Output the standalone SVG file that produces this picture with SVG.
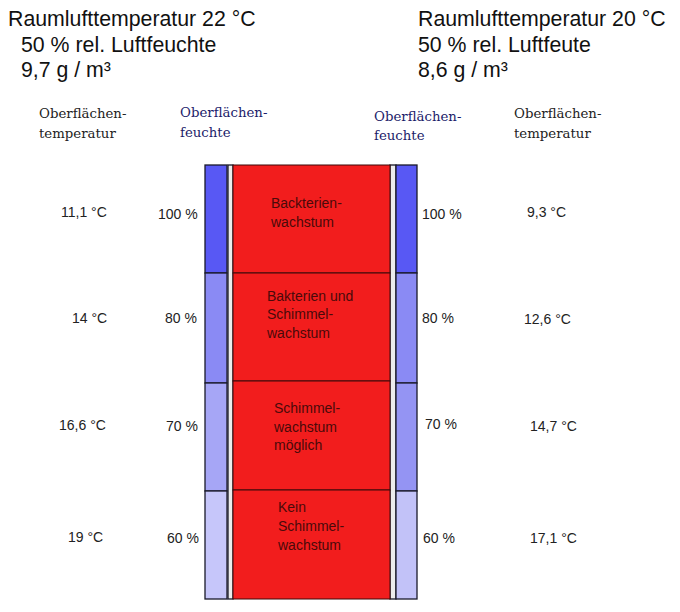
<svg xmlns="http://www.w3.org/2000/svg" width="680" height="612" viewBox="0 0 680 612">
<style>
.h{font-family:"Liberation Sans",Arial,sans-serif;font-size:21.3px;fill:#111}
.s{font-family:"DejaVu Serif","Liberation Serif",serif;font-size:13.3px;fill:#222}
.sb{font-family:"DejaVu Serif","Liberation Serif",serif;font-size:13.3px;fill:#1c1c6a}
.n{font-family:"Liberation Sans",Arial,sans-serif;font-size:14px;fill:#222}
.r{font-family:"Liberation Sans",Arial,sans-serif;font-size:14px;fill:#4a0a0a}
.c{stroke:#1a1a2a;stroke-width:1.3}
.strip{fill:#ececec;stroke:#1a1a2a;stroke-width:1.3}
.red{fill:#f21d1d;stroke:#3a0a0a;stroke-width:1}
</style>
<rect width="680" height="612" fill="#fff"/>
<g id="header-left">
<text class="h" x="8" y="26">Raumlufttemperatur 22 °C</text>
<text class="h" x="21" y="52">50 % rel. Luftfeuchte</text>
<text class="h" x="21" y="77">9,7 g / m³</text>
</g>
<g id="header-right">
<text class="h" x="418" y="26">Raumlufttemperatur 20 °C</text>
<text class="h" x="418" y="52">50 % rel. Luftfeute</text>
<text class="h" x="418" y="77">8,6 g / m³</text>
</g>
<g id="labels">
<text class="s" x="39" y="118">Oberflächen-</text>
<text class="s" x="39" y="138">temperatur</text>
<text class="sb" x="180" y="117">Oberflächen-</text>
<text class="sb" x="180" y="137">feuchte</text>
<text class="sb" x="374" y="121">Oberflächen-</text>
<text class="sb" x="374" y="140">feuchte</text>
<text class="s" x="514" y="118">Oberflächen-</text>
<text class="s" x="514" y="138">temperatur</text>
</g>
<g id="left-humidity">
<rect class="c" x="205" y="165" width="22" height="108" fill="#5858f4"/>
<rect class="c" x="205" y="273" width="22" height="110" fill="#8a8af4"/>
<rect class="c" x="205" y="383" width="22" height="108" fill="#a6a6f6"/>
<rect class="c" x="205" y="491" width="22" height="108" fill="#c6c6fa"/>
</g>
<g id="strips">
<rect class="strip" x="228" y="165" width="5" height="434"/>
<rect class="strip" x="390" y="165" width="6" height="434"/>
</g>
<g id="wall">
<rect class="red" x="233" y="165" width="157" height="108"/>
<rect class="red" x="233" y="273" width="157" height="108"/>
<rect class="red" x="233" y="381" width="157" height="109"/>
<rect class="red" x="233" y="490" width="157" height="109"/>
<text class="r" x="271" y="208">Backterien-</text>
<text class="r" x="271" y="227">wachstum</text>
<text class="r" x="267" y="301">Bakterien und</text>
<text class="r" x="267" y="319">Schimmel-</text>
<text class="r" x="267" y="338">wachstum</text>
<text class="r" x="274" y="413">Schimmel-</text>
<text class="r" x="274" y="432">wachstum</text>
<text class="r" x="274" y="450">möglich</text>
<text class="r" x="278" y="512">Kein</text>
<text class="r" x="278" y="531">Schimmel-</text>
<text class="r" x="278" y="550">wachstum</text>
</g>
<g id="right-humidity">
<rect class="c" x="396" y="165" width="21" height="108" fill="#5858f4"/>
<rect class="c" x="396" y="273" width="21" height="110" fill="#8a8af4"/>
<rect class="c" x="396" y="383" width="21" height="108" fill="#9494f3"/>
<rect class="c" x="396" y="491" width="21" height="108" fill="#c2c2f8"/>
</g>
<g id="left-values">
<text class="n" x="61" y="217">11,1 °C</text>
<text class="n" x="158" y="219">100 %</text>
<text class="n" x="72" y="323">14 °C</text>
<text class="n" x="165" y="323">80 %</text>
<text class="n" x="59" y="430">16,6 °C</text>
<text class="n" x="166" y="431">70 %</text>
<text class="n" x="68" y="542">19 °C</text>
<text class="n" x="167" y="543">60 %</text>
</g>
<g id="right-values">
<text class="n" x="422" y="219">100 %</text>
<text class="n" x="527" y="217">9,3 °C</text>
<text class="n" x="422" y="323">80 %</text>
<text class="n" x="524" y="324">12,6 °C</text>
<text class="n" x="425" y="429">70 %</text>
<text class="n" x="530" y="431">14,7 °C</text>
<text class="n" x="423" y="543">60 %</text>
<text class="n" x="530" y="543">17,1 °C</text>
</g>
</svg>
